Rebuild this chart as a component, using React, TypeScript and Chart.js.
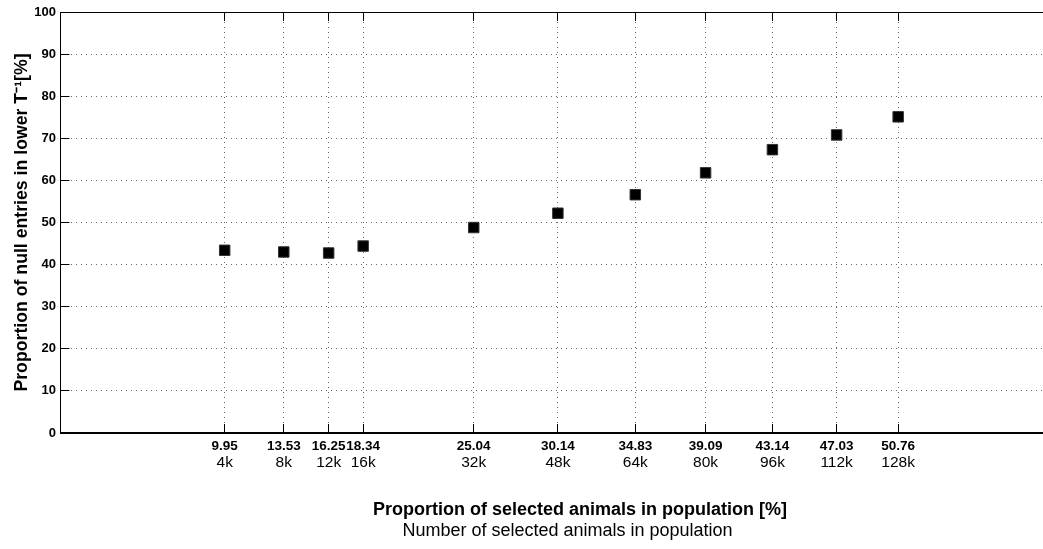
import { useEffect, useRef } from 'react';
import { Chart, registerables } from 'chart.js';

Chart.register(...registerables);

// ---- data ----
const proportionLabels = ['9.95', '13.53', '16.25', '18.34', '25.04', '30.14', '34.83', '39.09', '43.14', '47.03', '50.76'];
const proportionValues = [9.95, 13.53, 16.25, 18.34, 25.04, 30.14, 34.83, 39.09, 43.14, 47.03, 50.76];
const animalCountLabels = ['4k', '8k', '12k', '16k', '32k', '48k', '64k', '80k', '96k', '112k', '128k'];
const nullEntryShare = [43.4, 43.0, 42.75, 44.4, 48.8, 52.2, 56.6, 61.8, 67.3, 70.8, 75.1];
const yTickValues = [0, 10, 20, 30, 40, 50, 60, 70, 80, 90, 100];

const xTitle = 'Proportion of selected animals in population [%]';
const x2Title = 'Number of selected animals in population';
const yTitle = 'Proportion of null entries in lower T\u207B\u00B9[%]';

const FONT = "'Liberation Sans', Arial, Helvetica, sans-serif";
const CANVAS_W = 1135;
const CANVAS_H = 549;
const X_MIN = 0;
const X_MAX = 62.96;
const GRID = 'rgba(0,0,0,0.6)';

const setXTicks = (scale: any) => {
  scale.ticks = proportionValues.map((v) => ({ value: v }));
};
const setYTicks = (scale: any) => {
  scale.ticks = yTickValues.map((v) => ({ value: v }));
};
const noPad = (s: any) => {
  s.paddingLeft = 0;
  s.paddingRight = 0;
  s.paddingTop = 0;
  s.paddingBottom = 0;
};

export default function App() {
  const ref = useRef<HTMLCanvasElement | null>(null);

  useEffect(() => {
    if (!ref.current) return;
    const chart = new Chart(ref.current, {
      type: 'scatter',
      data: {
        datasets: [
          {
            data: proportionValues.map((x, i) => ({ x, y: nullEntryShare[i] })),
            pointStyle: 'rect',
            pointRadius: 7.4,
            pointHoverRadius: 7.4,
            backgroundColor: '#000',
            borderColor: '#333',
            borderWidth: 1,
            showLine: false,
          },
        ],
      },
      options: {
        responsive: false,
        animation: false,
        events: [],
        layout: { padding: 0 },
        plugins: {
          legend: { display: false },
          tooltip: { enabled: false },
          title: {
            display: true,
            position: 'bottom',
            fullSize: true,
            text: x2Title,
            color: '#000',
            font: { family: FONT, size: 18, weight: 'normal', lineHeight: 1.2 },
            padding: { top: 0, bottom: 7 },
          },
        },
        scales: {
          x: {
            type: 'linear',
            position: 'bottom',
            weight: 1,
            min: X_MIN,
            max: X_MAX,
            afterBuildTicks: setXTicks,
            afterFit: (s: any) => {
              s.height = 18;
              noPad(s);
            },
            ticks: {
              autoSkip: false,
              maxRotation: 0,
              minRotation: 0,
              padding: 13.7,
              color: '#000',
              font: { family: FONT, size: 13.5, weight: 'bold' },
              callback: (_v: any, i: number) => proportionLabels[i],
            },
            grid: {
              display: true,
              drawOnChartArea: true,
              drawTicks: true,
              tickLength: -9,
              color: GRID,
              lineWidth: 1,
              tickColor: '#000',
              tickWidth: 1,
            },
            border: { display: true, color: '#000', width: 2, dash: [1, 4] },
          },
          x2: {
            type: 'linear',
            position: 'bottom',
            weight: 2,
            min: X_MIN,
            max: X_MAX,
            afterBuildTicks: setXTicks,
            afterFit: (s: any) => {
              s.height = 69.4;
              noPad(s);
            },
            ticks: {
              autoSkip: false,
              maxRotation: 0,
              minRotation: 0,
              padding: 2.2,
              color: '#000',
              font: { family: FONT, size: 15.5 },
              callback: (_v: any, i: number) => animalCountLabels[i],
            },
            grid: { display: false, drawTicks: false, drawOnChartArea: false },
            border: { display: false },
            title: {
              display: true,
              text: xTitle,
              color: '#000',
              font: { family: FONT, size: 18, weight: 'bold' },
              padding: { top: 0, bottom: 0 },
            },
          },
          xTop: {
            type: 'linear',
            position: 'top',
            min: X_MIN,
            max: X_MAX,
            afterBuildTicks: setXTicks,
            afterFit: (s: any) => {
              s.height = 12;
              noPad(s);
            },
            ticks: { display: false },
            grid: {
              display: true,
              drawOnChartArea: false,
              drawTicks: true,
              tickLength: -9,
              tickColor: '#000',
              tickWidth: 1,
            },
            border: { display: true, color: '#000', width: 1 },
          },
          y: {
            type: 'linear',
            position: 'left',
            min: 0,
            max: 100,
            afterBuildTicks: setYTicks,
            afterFit: (s: any) => {
              s.width = 60.5;
              noPad(s);
            },
            ticks: {
              padding: 13.5,
              color: '#000',
              font: { family: FONT, size: 13, weight: 'bold' },
              callback: (v: any) => String(v),
            },
            grid: {
              display: true,
              drawOnChartArea: true,
              drawTicks: true,
              tickLength: -9,
              color: GRID,
              lineWidth: 1,
              tickColor: '#000',
              tickWidth: 1,
            },
            border: { display: true, color: '#000', width: 1, dash: [1, 4] },
            title: {
              display: true,
              text: yTitle,
              color: '#000',
              font: { family: FONT, size: 17.7, weight: 'bold' },
              padding: { top: 11.4, bottom: 0 },
            },
          },
          yRight: {
            type: 'linear',
            position: 'right',
            min: 0,
            max: 100,
            afterFit: (s: any) => {
              s.width = 35.5;
              noPad(s);
            },
            ticks: { display: false },
            grid: { display: false, drawOnChartArea: false, drawTicks: false },
            border: { display: false },
          },
        },
      } as any,
    });
    return () => chart.destroy();
  }, []);

  return (
    <div style={{ position: 'absolute', left: 0, top: 0, width: 1043, height: 549, overflow: 'hidden', background: '#fff' }}>
      <canvas
        ref={ref}
        width={CANVAS_W}
        height={CANVAS_H}
        style={{ display: 'block', width: CANVAS_W, height: CANVAS_H }}
      />
    </div>
  );
}
